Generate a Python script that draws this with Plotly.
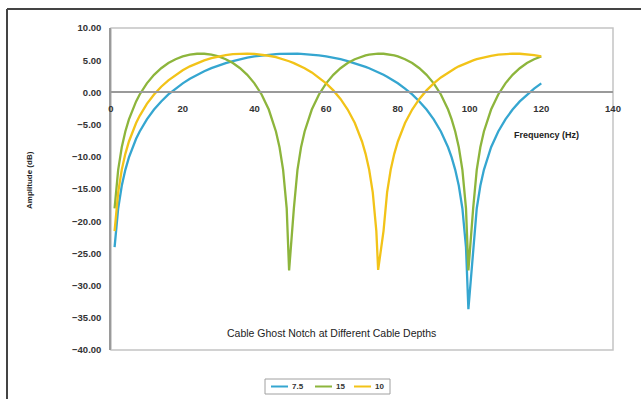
import plotly.graph_objects as go

# Frequency samples (Hz)
freq_hz = [1, 2, 3, 4, 5, 6, 7, 8, 9, 10, 12, 14, 16, 18, 20, 22, 24, 26, 28, 30,
           32, 34, 36, 38, 40, 42, 44, 46, 47, 48, 49, 49.67, 51, 52, 53, 54, 56, 58,
           60, 62, 64, 66, 68, 70, 71, 72, 73, 74, 74.5, 76, 77, 78, 79, 80, 82, 84,
           86, 88, 90, 92, 94, 95, 96, 97, 98, 99, 99.67, 101, 102, 103, 104, 106,
           108, 110, 112, 114, 116, 118, 120]

# Ghost response (dB) for each cable depth
amp_7_5 = [-24.04, -18.02, -14.51, -12.02, -10.09, -8.52, -7.20, -6.07, -5.07, -4.18,
           -2.66, -1.40, -0.32, 0.60, 1.41, 2.11, 2.73, 3.28, 3.76, 4.18,
           4.55, 4.87, 5.15, 5.39, 5.58, 5.74, 5.87, 5.95, 5.98, 6.00, 6.02, 6.02, 6.02, 6.00, 5.98, 5.95, 5.87, 5.74,
           5.58, 5.39, 5.15, 4.87, 4.55, 4.18, 3.97, 3.76, 3.52, 3.28, 3.14, 2.73, 2.43, 2.11, 1.77, 1.41, 0.60, -0.32,
           -1.40, -2.66, -4.18, -6.07, -8.52, -10.09, -12.02, -14.51, -18.02, -24.04, -33.67, -24.04, -18.02, -14.51, -12.02, -8.52,
           -6.07, -4.18, -2.66, -1.40, -0.32, 0.60, 1.41]

amp_15 = [-18.02, -12.02, -8.52, -6.07, -4.18, -2.66, -1.40, -0.32, 0.60, 1.41,
          2.73, 3.76, 4.55, 5.15, 5.58, 5.87, 6.00, 6.00, 5.87, 5.58,
          5.15, 4.55, 3.76, 2.73, 1.41, -0.32, -2.66, -6.07, -8.52, -12.02, -18.02, -27.65, -18.02, -12.02, -8.52, -6.07, -2.66, -0.32,
          1.41, 2.73, 3.76, 4.55, 5.15, 5.58, 5.74, 5.87, 5.95, 6.00, 6.02, 6.00, 5.95, 5.87, 5.74, 5.58, 5.15, 4.55,
          3.76, 2.73, 1.41, -0.32, -2.66, -4.18, -6.07, -8.52, -12.02, -18.02, -27.65, -18.02, -12.02, -8.52, -6.07, -2.66,
          -0.32, 1.41, 2.73, 3.76, 4.55, 5.15, 5.58]

amp_10 = [-21.54, -15.53, -12.02, -9.54, -7.62, -6.07, -4.76, -3.64, -2.66, -1.79,
          -0.32, 0.88, 1.88, 2.73, 3.44, 4.05, 4.55, 4.97, 5.31, 5.58,
          5.79, 5.93, 6.00, 6.02, 5.97, 5.87, 5.69, 5.46, 5.31, 5.15, 4.97, 4.84, 4.55, 4.31, 4.05, 3.76, 3.10, 2.32,
          1.41, 0.31, -1.02, -2.66, -4.76, -7.62, -9.54, -12.02, -15.53, -21.54, -27.56, -21.54, -15.53, -12.02, -9.54, -7.62, -4.76, -2.66,
          -1.02, 0.31, 1.41, 2.32, 3.10, 3.44, 3.76, 4.05, 4.31, 4.55, 4.70, 4.97, 5.15, 5.31, 5.46, 5.69,
          5.87, 5.97, 6.02, 6.00, 5.93, 5.79, 5.58]

series_names = ["7.5", "15", "10"]
series_values = [amp_7_5, amp_15, amp_10]
series_colors = ["#35a6d0", "#8db53c", "#f2c318"]

x_ticks = [0, 20, 40, 60, 80, 100, 120, 140]
y_ticks = [10, 5, 0, -5, -10, -15, -20, -25, -30, -35, -40]

W, H = 641, 399
L, R, T, B = 111, 28, 28, 49
PW, PH = W - L - R, H - T - B


def px_x(px):
    return (px - L) / PW


def px_y(py):
    return (H - B - py) / PH


FONT = "Liberation Sans, Arial, sans-serif"
TICK_FONT = dict(size=9.5, family=FONT, weight="bold", color="#333")

fig = go.Figure()
for name, vals, col in zip(series_names, series_values, series_colors):
    fig.add_trace(go.Scatter(x=freq_hz, y=vals, mode="lines", name=name,
                             line=dict(color=col, width=2.3), showlegend=False))

fig.update_layout(
    width=W, height=H, autosize=False,
    margin=dict(l=L, r=R, t=T, b=B, pad=0),
    paper_bgcolor="white", plot_bgcolor="white",
    font=dict(family=FONT, color="#222"),
    xaxis=dict(range=[0, 140], tickvals=x_ticks, showgrid=False, zeroline=False,
               showline=True, linecolor="#9a9a9a", linewidth=1.5,
               anchor="free", position=0.8, ticks="", ticklabelstandoff=7,
               tickfont=TICK_FONT),
    yaxis=dict(range=[-40, 10], tickvals=y_ticks, tickformat=".2f", showgrid=False,
               zeroline=False, showline=True, linecolor="#9a9a9a", linewidth=1.5,
               ticks="", ticklabelstandoff=6, tickfont=TICK_FONT),
)

shapes = [
    # plot area border
    dict(type="rect", xref="x domain", yref="y domain", x0=0, x1=1, y0=0, y1=1,
         line=dict(color="#c4c4c4", width=1.5), layer="below"),
    # outer frame (left and top edges)
    dict(type="line", xref="paper", yref="paper", x0=px_x(7), x1=px_x(7),
         y0=px_y(9), y1=px_y(H + 5), line=dict(color="#444", width=2)),
    dict(type="line", xref="paper", yref="paper", x0=px_x(7), x1=px_x(W + 5),
         y0=px_y(9), y1=px_y(9), line=dict(color="#444", width=2)),
    # legend box
    dict(type="rect", xref="paper", yref="paper", x0=px_x(265), x1=px_x(390),
         y0=px_y(394), y1=px_y(379), line=dict(color="#a0a0a0", width=1),
         fillcolor="white"),
]

annotations = [
    dict(text="Frequency (Hz)", xref="paper", yref="paper", x=px_x(546), y=px_y(135),
         xanchor="center", yanchor="middle", showarrow=False,
         font=dict(size=9, family=FONT, weight="bold", color="#222")),
    dict(text="Cable Ghost Notch at Different Cable Depths", xref="paper", yref="paper",
         x=px_x(331), y=px_y(333), xanchor="center", yanchor="middle", showarrow=False,
         font=dict(size=10.5, family=FONT, color="#222")),
    dict(text="Amplitude (dB)", xref="paper", yref="paper", x=px_x(29), y=px_y(180),
         xanchor="center", yanchor="middle", textangle=-90, showarrow=False,
         font=dict(size=8, family=FONT, weight="bold", color="#222")),
]

# legend entries: short line sample followed by the depth label
leg_line_x = [271, 315, 354]
leg_y = 386.5
for name, col, lx in zip(series_names, series_colors, leg_line_x):
    shapes.append(dict(type="line", xref="paper", yref="paper", x0=px_x(lx),
                       x1=px_x(lx + 17), y0=px_y(leg_y), y1=px_y(leg_y),
                       line=dict(color=col, width=2)))
    annotations.append(dict(text=name, xref="paper", yref="paper", x=px_x(lx + 19),
                            y=px_y(leg_y), xanchor="left", yanchor="middle",
                            showarrow=False,
                            font=dict(size=8, family=FONT, weight="bold", color="#333")))

fig.update_layout(shapes=shapes, annotations=annotations)

fig.write_html("out.html")
